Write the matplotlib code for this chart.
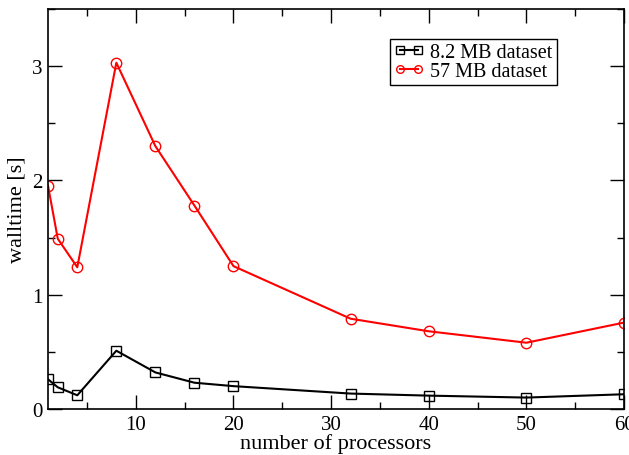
import matplotlib
matplotlib.use("Agg")
import matplotlib.pyplot as plt
from matplotlib.ticker import MultipleLocator

# walltime measurements vs. number of processors
procs = [1, 2, 4, 8, 12, 16, 20, 32, 40, 50, 60]
small_walltime = [0.26, 0.19, 0.12, 0.51, 0.32, 0.23, 0.20, 0.135, 0.117, 0.10, 0.129]
large_walltime = [1.955, 1.49, 1.24, 3.03, 2.30, 1.78, 1.25, 0.79, 0.68, 0.58, 0.756]

plt.rcParams['font.family'] = ['Liberation Serif', 'DejaVu Serif']

fig = plt.figure(figsize=(6.29, 4.56), dpi=100)
ax = fig.add_axes([48 / 629, 46 / 456, 576 / 629, 400 / 456])

ax.plot(procs, small_walltime, color='black', lw=1.5, marker='s', ms=6.5,
        mfc='none', mec='black', mew=1.0, label='8.2 MB dataset')
ax.plot(procs, large_walltime, color='red', lw=1.5, marker='o', ms=7.5,
        mfc='none', mec='red', mew=1.0, label='57 MB dataset')

ax.set_xlim(1, 60)
ax.set_ylim(0, 3.5)
ax.xaxis.set_major_locator(MultipleLocator(10))
ax.xaxis.set_minor_locator(MultipleLocator(5))
ax.yaxis.set_major_locator(MultipleLocator(1))
ax.yaxis.set_minor_locator(MultipleLocator(0.5))
ax.tick_params(which='both', direction='in', top=True, right=True,
               labelsize=15, width=1.0)
ax.tick_params(which='major', length=10, pad=4)
ax.tick_params(which='minor', length=5)
for s in ax.spines.values():
    s.set_linewidth(1.2)

ax.set_xlabel('number of processors', fontsize=16, labelpad=0)
ax.set_ylabel('walltime [s]', fontsize=16, labelpad=4)

leg = ax.legend(loc='upper left', bbox_to_anchor=(0.594, 0.925), numpoints=2,
                handlelength=1.5, handletextpad=0.3, fontsize=14.5,
                fancybox=False, framealpha=1, edgecolor='black',
                borderpad=0.2, labelspacing=0.0, borderaxespad=0)
leg.get_frame().set_linewidth(1.0)
for line in leg.get_lines():
    line.set_markersize(5.5)

fig.savefig('out.png', dpi=100)
